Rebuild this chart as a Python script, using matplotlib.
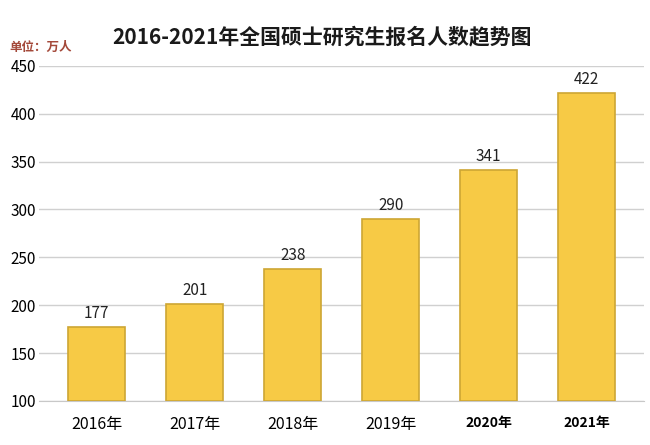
#!/usr/bin/env python
#  -*- coding: utf-8 -*-
"""
    Bar chart of national master's entrance exam registrations, 2016-2021.
"""
import matplotlib
matplotlib.use("Agg")
import matplotlib.pyplot as plt

plt.rcParams['font.family'] = ['Noto Sans CJK SC', 'DejaVu Sans']

years = ["2016年", "2017年", "2018年", "2019年", "2020年", "2021年"]
applicants = [177, 201, 238, 290, 341, 422]
y_ticks = [100, 150, 200, 250, 300, 350, 400, 450]

fig = plt.figure(figsize=(6.5, 4.45), dpi=100)
ax = fig.add_axes([0.06, 0.099, 0.93, 0.753])

x = list(range(len(years)))
ax.bar(x, [v - 100 for v in applicants], bottom=100, width=0.58,
       color="#F7CA45", edgecolor="#CDA634", linewidth=1.2, zorder=3)

for xi, v in zip(x, applicants):
    ax.text(xi, v + 5, str(v), ha="center", va="bottom", fontsize=11,
            color="#222222")

ax.set_ylim(100, 450)
ax.set_xlim(-0.59, 5.58)
ax.set_yticks(y_ticks)
ax.tick_params(axis="y", length=0, labelsize=11, pad=2)
ax.tick_params(axis="x", length=0, pad=11)
ax.set_xticks(x)
ax.set_xticklabels(years)
for i, lab in enumerate(ax.get_xticklabels()):
    if i >= 4:
        lab.set_fontsize(10)
        lab.set_fontweight("bold")
    else:
        lab.set_fontsize(11.5)

ax.grid(axis="y", color="#D0D0D0", linewidth=1.0, zorder=0)
for side in ["left", "right", "top"]:
    ax.spines[side].set_visible(False)
ax.spines["bottom"].set_color("#C8C8C8")

fig.text(0.495, 0.918, "2016-2021年全国硕士研究生报名人数趋势图", ha="center",
         va="center", fontsize=15, fontweight="bold", color="#1a1a1a")
fig.text(0.015, 0.893, "单位：万人", ha="left", va="center", fontsize=9,
         fontweight="bold", color="#A4493A")

fig.savefig("out.png", dpi=100)
